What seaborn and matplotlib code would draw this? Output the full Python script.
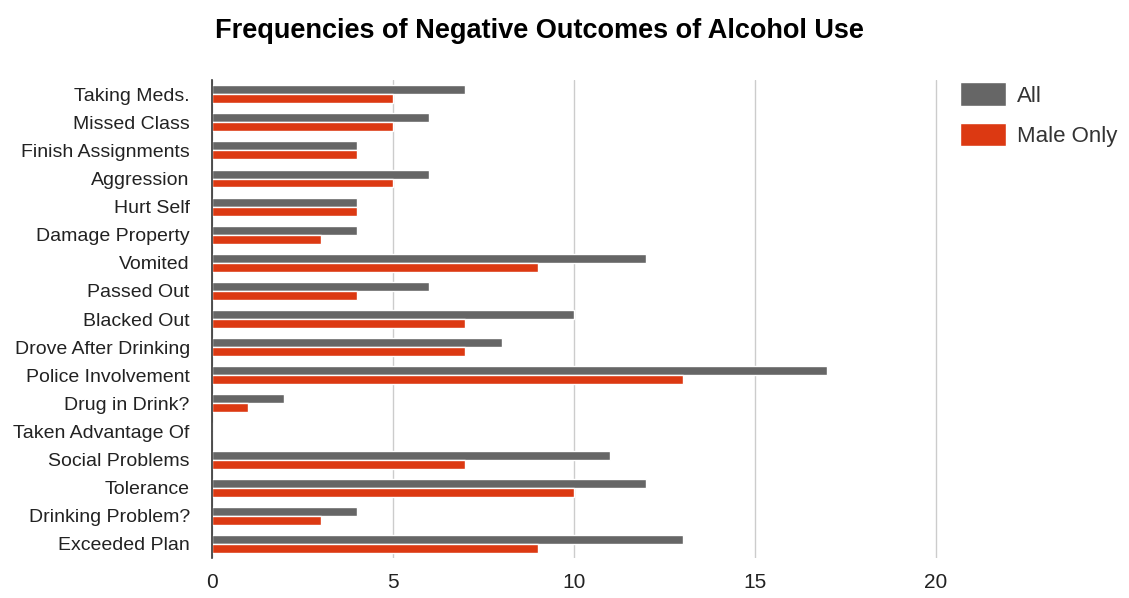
import pandas as pd
import matplotlib.pyplot as plt
import seaborn as sns
from matplotlib.patches import Patch

# Data
outcomes = ['Taking Meds.', 'Missed Class', 'Finish Assignments', 'Aggression',
            'Hurt Self', 'Damage Property', 'Vomited', 'Passed Out',
            'Blacked Out', 'Drove After Drinking', 'Police Involvement',
            'Drug in Drink?', 'Taken Advantage Of', 'Social Problems',
            'Tolerance', 'Drinking Problem?', 'Exceeded Plan']
all_counts = [7, 6, 4, 6, 4, 4, 12, 6, 10, 8, 17, 2, 0, 11, 12, 4, 13]
male_counts = [5, 5, 4, 5, 4, 3, 9, 4, 7, 7, 13, 1, 0, 7, 10, 3, 9]

df = pd.DataFrame({
    'Outcome': outcomes * 2,
    'Count': all_counts + male_counts,
    'Group': ['All'] * len(outcomes) + ['Male Only'] * len(outcomes),
})

sns.set_style('white')
plt.rcParams['font.family'] = ['Liberation Sans', 'DejaVu Sans']

colors = {'All': '#666666', 'Male Only': '#DC3912'}

fig = plt.figure(figsize=(11.29, 5.98), dpi=100)
# x axis runs 0..20.1 so the gridline at 20 is drawn in full
ax = fig.add_axes([0.1878, 0.067, 0.6445, 0.799])

sns.barplot(data=df, x='Count', y='Outcome', hue='Group', order=outcomes,
            palette=colors, orient='h', width=0.64, saturation=1,
            legend=False, ax=ax)

ax.set_xlim(0, 20.1)
ax.set_xticks([0, 5, 10, 15, 20])
ax.set_ylim(len(outcomes) - 0.5, -0.5)
ax.grid(axis='x', color='#cccccc', linewidth=1)
ax.set_axisbelow(True)
for s in ['top', 'right', 'bottom']:
    ax.spines[s].set_visible(False)
ax.spines['left'].set_color('#333333')
ax.spines['left'].set_linewidth(1.2)
ax.tick_params(axis='both', length=0)
ax.tick_params(axis='y', labelsize=14, colors='#222222', pad=16)
ax.tick_params(axis='x', labelsize=15, colors='#222222', pad=11)
ax.set_xlabel('')
ax.set_ylabel('')

fig.text(0.478, 0.948, 'Frequencies of Negative Outcomes of Alcohol Use',
         ha='center', va='center', fontsize=19.5, fontweight='bold',
         color='black')

handles = [Patch(facecolor=colors[g], label=g) for g in ['All', 'Male Only']]
fig.legend(handles=handles, loc='upper left', bbox_to_anchor=(0.842, 0.877),
           frameon=False, fontsize=16, handlelength=2.1, handleheight=1.25,
           labelspacing=0.72, handletextpad=0.5, borderaxespad=0,
           labelcolor='#333333')

plt.savefig('out.png', dpi=100)
